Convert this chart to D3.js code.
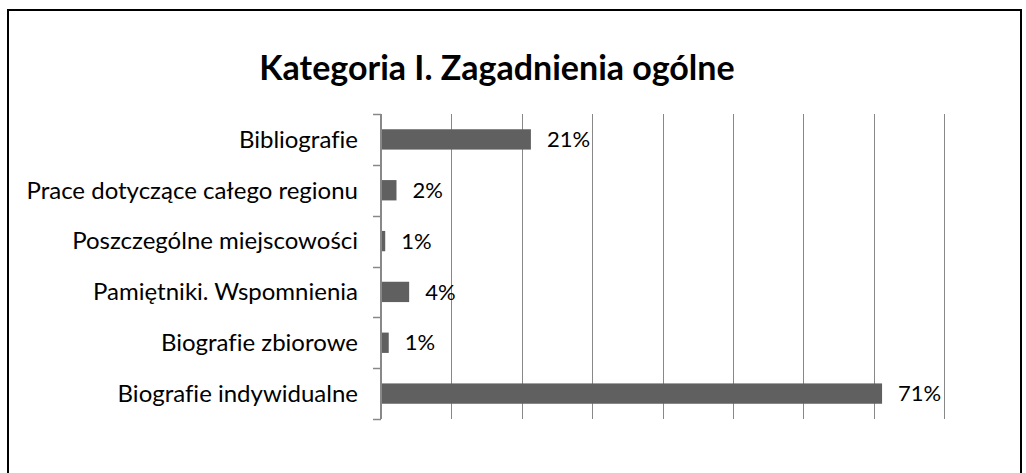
<!DOCTYPE html>
<html>
<head>
<meta charset="utf-8">
<script src="https://cdn.jsdelivr.net/npm/d3@7"></script>
<style>
  html, body { margin: 0; padding: 0; background: #fff; }
  svg text { font-family: Lato, "Liberation Sans", sans-serif; fill: #000; font-variant-ligatures: none; }
</style>
</head>
<body>
<svg id="chart" width="1026" height="473"></svg>
<script>
var categories = [ "Bibliografie", "Prace dotyczące całego regionu", "Poszczególne miejscowości",
	"Pamiętniki. Wspomnienia", "Biografie zbiorowe", "Biografie indywidualne" ];
var values = [ 0.213, 0.022, 0.006, 0.040, 0.011, 0.712 ];
var valueLabels = [ "21%", "2%", "1%", "4%", "1%", "71%" ];
var gridTicks = [ 0, 0.1, 0.2, 0.3, 0.4, 0.5, 0.6, 0.7, 0.8 ];

var svg = d3.select("svg#chart"),
	width = +svg.attr("width"),
	height = +svg.attr("height");

var x = d3.scaleLinear().domain([0, 0.8]).range([381, 944]);
var y = d3.scaleBand().domain(categories).range([114, 419])
	.paddingInner(0.6).paddingOuter(0.3);

// frame
svg.append("rect")
	.attr("x", 8).attr("y", 10)
	.attr("width", 1013).attr("height", 480)
	.attr("fill", "none")
	.attr("stroke", "#000")
	.attr("stroke-width", 2);

svg.append("text")
	.attr("x", 497).attr("y", 80)
	.attr("text-anchor", "middle")
	.style("font-size", "34px")
	.style("font-weight", "bold")
	.text("Kategoria I. Zagadnienia ogólne");

// vertical gridlines
svg.append("g")
	.selectAll("line")
	.data(gridTicks.slice(1))
	.enter().append("line")
	  .attr("x1", function(d) { return Math.round(x(d)) + 0.5; })
	  .attr("x2", function(d) { return Math.round(x(d)) + 0.5; })
	  .attr("y1", y.range()[0])
	  .attr("y2", y.range()[1])
	  .attr("stroke", "#888")
	  .attr("stroke-width", 1);

// category axis with ticks at band boundaries
var step = y.step();
var bounds = d3.range(categories.length + 1).map(function(i) { return y.range()[0] + i * step; });
var axis = svg.append("g");
axis.append("line")
	.attr("x1", x(0)).attr("x2", x(0))
	.attr("y1", y.range()[0]).attr("y2", y.range()[1])
	.attr("stroke", "#888").attr("stroke-width", 2);
axis.selectAll("line.tick")
	.data(bounds)
	.enter().append("line")
	  .attr("class", "tick")
	  .attr("x1", x(0) - 8).attr("x2", x(0))
	  .attr("y1", function(d) { return Math.round(d) + 0.5; })
	  .attr("y2", function(d) { return Math.round(d) + 0.5; })
	  .attr("stroke", "#888").attr("stroke-width", 1.5);

axis.selectAll("text")
	.data(categories)
	.enter().append("text")
	  .attr("x", 358)
	  .attr("y", function(d) { return y(d) + y.bandwidth() / 2; })
	  .attr("dy", "0.35em")
	  .attr("text-anchor", "end")
	  .style("font-size", "24px")
	  .text(function(d) { return d; });

// bars
svg.append("g")
	.selectAll("rect")
	.data(values)
	.enter().append("rect")
	  .attr("x", x(0) + 1)
	  .attr("y", function(d, i) { return y(categories[i]); })
	  .attr("width", function(d) { return x(d) - x(0) - 1; })
	  .attr("height", y.bandwidth())
	  .attr("fill", "#606060");

svg.append("g")
	.selectAll("text")
	.data(values)
	.enter().append("text")
	  .attr("x", function(d) { return x(d) + 16; })
	  .attr("y", function(d, i) { return y(categories[i]) + y.bandwidth() / 2; })
	  .attr("dy", "0.35em")
	  .style("font-size", "22px")
	  .text(function(d, i) { return valueLabels[i]; });
</script>
</body>
</html>
